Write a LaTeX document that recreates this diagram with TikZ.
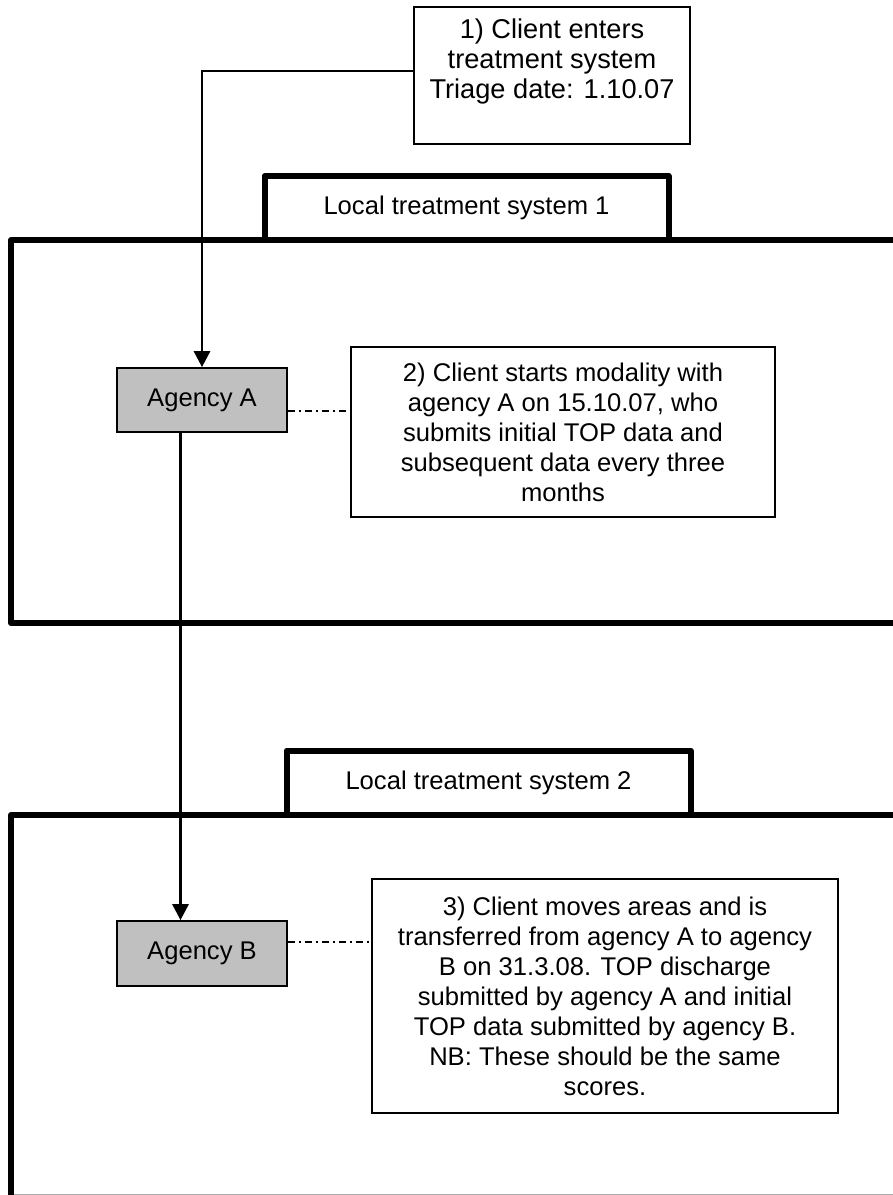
\documentclass[tikz,border=0pt]{standalone}
\usepackage{fontspec}
\setmainfont{Liberation Sans}
\usepackage{tikz}
\usetikzlibrary{arrows.meta,positioning,calc}
\usepackage{xcolor}
\definecolor{cAgency}{RGB}{192,192,192}
\definecolor{cEdge}{RGB}{0,0,0}
\definecolor{cFaint}{RGB}{170,170,170}
\tikzset{
	notebox/.style={draw=cEdge, line width=0.85pt, fill=white,
		inner xsep=4pt, inner ysep=4pt, align=center,
		font=\fontsize{12.8pt}{15pt}\selectfont},
	agbox/.style={draw=cEdge, line width=0.85pt, fill=cAgency,
		minimum width=85pt, minimum height=32pt, inner sep=0pt,
		font=\fontsize{12.8pt}{15pt}\selectfont},
	tabbox/.style={draw=cEdge, line width=3pt, line join=round, fill=white,
		minimum width=202pt, minimum height=32pt, inner sep=0pt,
		font=\fontsize{12.8pt}{15pt}\selectfont},
	sysedge/.style={draw=cEdge, line width=3pt, line join=round},
	flow/.style={-{Triangle[length=8pt,width=8pt]}, line width=1.4pt},
	link/.style={line width=1pt},
	dashdot/.style={line width=1.3pt, dash pattern=on 3.5pt off 2pt on 1pt off 2pt},
}
\begin{document}
\begin{tikzpicture}[x=0.5pt,y=-0.5pt]
	\useasboundingbox (0,0) rectangle (893,1195);
	\clip (0,0) rectangle (893,1195);
	% local systems: tabs first, frames on top
	\node[tabbox] (tab1) at (466.5,208) {Local treatment system 1};
	\node[tabbox] (tab2) at (488.5,782.5) {Local treatment system 2};
	\draw[sysedge] (905,623) -- (11,623) -- (11,240) -- (905,240);
	\draw[sysedge] (905,815) -- (11,815) -- (11,1205);
	\draw[cFaint, line width=0.5pt] (14,1194) -- (893,1194);
	% agencies
	\node[agbox] (agA) at (202,400) {Agency A};
	\node[agbox, minimum height=32.5pt] (agB) at (202,953.5) {Agency B};
	% notes
	\node[notebox, inner ysep=6pt, font=\fontsize{13.6pt}{15pt}\selectfont] (box1) at (552,75.5)
		{\parbox[c][56.5pt][t]{130pt}{\centering
			1) Client enters\\treatment system\\Triage date: 1.10.07}};
	\node[notebox, minimum width=212pt, minimum height=85pt] (box2) at (563,432)
		{2) Client starts modality with\\agency A on 15.10.07, who\\submits initial TOP data and\\subsequent data every three\\months};
	\node[notebox, minimum width=233pt, minimum height=117pt] (box3) at (605,996)
		{3) Client moves areas and is\\transferred from agency A to agency\\B on 31.3.08. TOP discharge\\submitted by agency A and initial\\TOP data submitted by agency B.\\NB: These should be the same\\scores.};
	% connectors
	\draw[flow] ([yshift=2.25pt]box1.west) -| (agA.north);
	\draw[flow] ([xshift=-10.75pt]agA.south) -- ([xshift=-10.75pt]agB.north);
	\draw[dashdot] ([yshift=-5.5pt]agA.east) -- ([yshift=-5.5pt]agA.east -| box2.west);
	\draw[dashdot] ([yshift=5.75pt]agB.east) -- ([yshift=5.75pt]agB.east -| box3.west);
\end{tikzpicture}
\end{document}
